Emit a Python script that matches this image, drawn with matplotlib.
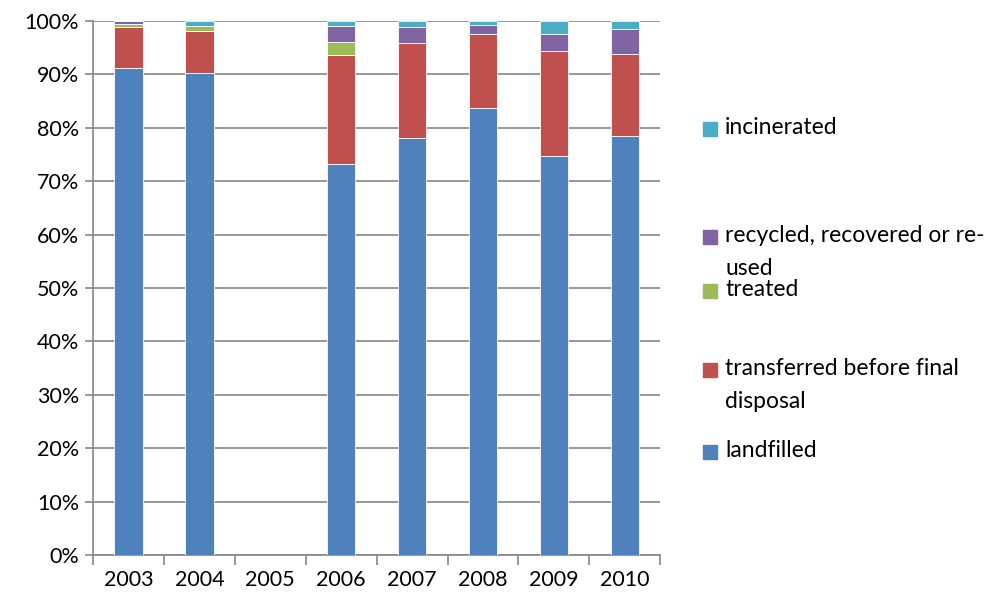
import numpy as np
import matplotlib.pyplot as plt
from matplotlib.patches import Rectangle

years = ['2003', '2004', '2005', '2006', '2007', '2008', '2009', '2010']
# shares in percent, 2005 has no data
landfilled  = [91.1, 90.2, 0, 73.2, 78.0, 83.7, 74.8, 78.4]
transferred = [7.8, 8.0, 0, 20.4, 17.8, 13.8, 19.6, 15.5]
treated     = [0.6, 0.8, 0, 2.5, 0.0, 0.0, 0.0, 0.0]
recycled    = [0.5, 0.1, 0, 2.9, 3.0, 1.7, 3.2, 4.6]
incinerated = [0.0, 0.9, 0, 1.0, 1.2, 0.8, 2.4, 1.5]

series = [landfilled, transferred, treated, recycled, incinerated]
names = ['landfilled', 'transferred before final\ndisposal', 'treated',
         'recycled, recovered or re-\nused', 'incinerated']
colors = ['#4F81BD', '#C0504D', '#9BBB59', '#8064A2', '#4BACC6']

plt.rcParams['font.family'] = ['Lato', 'DejaVu Sans']

fig = plt.figure(figsize=(10.05, 5.99), dpi=100)
ax = fig.add_axes([0.0925, 0.0735, 0.5645, 0.8915])

x = np.arange(len(years))
bottom = np.zeros(len(years))
for vals, c in zip(series, colors):
    v = np.array(vals) / 100.0
    ax.bar(x, v, width=0.4, bottom=bottom, color=c, edgecolor='white',
           linewidth=0.6, zorder=3)
    bottom += v

ax.set_xlim(-0.5, len(years) - 0.5)
ax.set_ylim(0, 1)
ax.set_yticks(np.arange(0, 1.01, 0.1))
ax.set_yticklabels(['%d%%' % (i * 10) for i in range(11)])
ax.yaxis.grid(True, color='#868686', linewidth=1.2, zorder=0)
ax.set_xticks(x)
ax.set_xticklabels(years)
ax.set_xticks(np.arange(-0.5, len(years), 1), minor=True)
ax.tick_params(axis='x', which='major', length=0, labelsize=15.5, pad=11, colors='black')
ax.tick_params(axis='x', which='minor', length=7, width=1.2, color='#868686')
ax.tick_params(axis='y', length=6, width=1.2, color='#868686', labelsize=15.5, pad=4)
for s in ['top', 'right']:
    ax.spines[s].set_visible(False)
for s in ['left', 'bottom']:
    ax.spines[s].set_color('#868686')
    ax.spines[s].set_linewidth(1.2)

# legend entries placed like the Excel legend (top to bottom)
leg_y = [129, 237, 291, 370, 452]  # pixel y of first text line
for i, yy in enumerate(leg_y):
    k = len(names) - 1 - i
    fy = 1 - yy / 599.0
    fig.patches.append(Rectangle((703 / 1005.0, fy - 7 / 599.0), 14 / 1005.0, 14 / 599.0,
                                 transform=fig.transFigure, color=colors[k]))
    fig.text(725 / 1005.0, fy + 12 / 599.0, names[k], fontsize=16.5, va='top',
             ha='left', linespacing=1.7)

fig.savefig('out.png', dpi=100)
